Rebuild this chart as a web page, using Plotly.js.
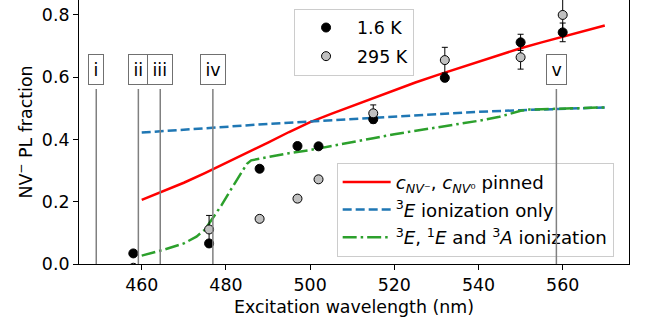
<!DOCTYPE html>
<html>
<head>
<meta charset="utf-8">
<script src="https://cdn.plot.ly/plotly-3.0.1.min.js"></script>
<style>html,body{margin:0;padding:0;background:#fff;}#chart{width:655px;height:327px;}</style>
</head>
<body>
<div id="chart"></div>
<script>
// Measured data (wavelength in nm, NV- PL fraction)
const wl1p6K = [458, 476, 488, 497, 502, 515, 532, 550, 560];
const val1p6K = [0.034, 0.066, 0.306, 0.379, 0.378, 0.465, 0.598, 0.712, 0.744];
const err1p6K = [0.01, 0.01, 0.01, 0.01, 0.01, 0.012, 0.012, 0.026, 0.03];

const wl295K = [458, 476, 488, 497, 502, 515, 532, 550, 560];
const val295K = [-0.012, 0.111, 0.145, 0.210, 0.272, 0.484, 0.655, 0.664, 0.800];
const err295K = [0.01, 0.045, 0.01, 0.01, 0.01, 0.027, 0.041, 0.038, 0.05];

// Model curves
const wlPinned = [460, 465, 470, 475, 480, 485, 490, 495, 500, 505, 510, 515, 520, 525, 530, 535, 540, 545, 550, 555, 560, 565, 570];
const valPinned = [0.206, 0.233, 0.261, 0.292, 0.324, 0.357, 0.390, 0.424, 0.456, 0.482, 0.507, 0.533, 0.559, 0.583, 0.606, 0.628, 0.650, 0.672, 0.693, 0.712, 0.730, 0.749, 0.766];

const wl3E = [460, 470, 480, 490, 500, 510, 520, 530, 540, 550, 560, 570];
const val3E = [0.422, 0.432, 0.441, 0.450, 0.458, 0.466, 0.475, 0.483, 0.489, 0.494, 0.499, 0.503];

const wlAll = [460, 465, 470, 473, 475, 477, 479, 481, 483, 485, 486, 490, 495, 500, 505, 510, 515, 520, 525, 530, 535, 540, 545, 548, 550, 552, 556, 560, 565, 570];
const valAll = [0.027, 0.045, 0.066, 0.088, 0.110, 0.150, 0.190, 0.235, 0.280, 0.322, 0.333, 0.344, 0.356, 0.366, 0.378, 0.391, 0.404, 0.417, 0.428, 0.437, 0.448, 0.460, 0.473, 0.484, 0.492, 0.496, 0.498, 0.499, 0.501, 0.503];

// Marker lines
const markLabels = ['i', 'ii', 'iii', 'iv', 'v'];
const markWl = [449.2, 459.2, 464.4, 476.9, 558.5];
const markLabelY = 0.626;

// Axis ticks
const xTicks = [460, 480, 500, 520, 540, 560];
const yTicks = [0.0, 0.2, 0.4, 0.6, 0.8];

const FONT = 'DejaVu Sans, sans-serif';
const FS = 17.4;

const traces = [
  {
    x: wlPinned, y: valPinned, mode: 'lines', type: 'scatter',
    name: '<i>c</i><sub><i>NV</i>⁻</sub>, <i>c</i><sub><i>NV</i>⁰</sub> pinned',
    line: {color: '#ff0000', width: 2.5},
    legend: 'legend2', legendgroup: 'a'
  },
  {
    x: wl3E, y: val3E, mode: 'lines', type: 'scatter',
    name: '<sup>3</sup><i>E</i> ionization only',
    line: {color: '#1f77b4', width: 2.5, dash: '9px,4px'},
    legend: 'legend2', legendgroup: 'b'
  },
  {
    x: wlAll, y: valAll, mode: 'lines', type: 'scatter',
    name: '<sup>3</sup><i>E</i>, <sup>1</sup><i>E</i> and <sup>3</sup><i>A</i> ionization',
    line: {color: '#2ca02c', width: 2.5, dash: '14px,4px,2.5px,4px'},
    legend: 'legend2', legendgroup: 'c'
  },
  {
    x: wl1p6K, y: val1p6K, mode: 'markers', type: 'scatter', name: '1.6 K',
    marker: {color: '#000000', size: 9, line: {color: '#000000', width: 1}},
    error_y: {type: 'data', array: err1p6K, visible: true, color: '#000000', thickness: 1, width: 3},
    legend: 'legend', legendgroup: 'd'
  },
  {
    x: wl295K, y: val295K, mode: 'markers', type: 'scatter', name: '295 K',
    marker: {color: '#c0c0c0', size: 9, line: {color: '#000000', width: 1}},
    error_y: {type: 'data', array: err295K, visible: true, color: '#000000', thickness: 1, width: 3},
    legend: 'legend', legendgroup: 'e'
  }
];

const annotations = markLabels.map((t, i) => ({
  text: t, x: markWl[i], y: 0, xref: 'x', yref: 'y',
  ax: markWl[i], ay: markLabelY, axref: 'x', ayref: 'y',
  showarrow: true, arrowhead: 0, arrowwidth: 1.5, arrowcolor: '#808080',
  startstandoff: 5,
  font: {family: FONT, size: FS, color: '#000'},
  bgcolor: '#ffffff', bordercolor: '#707070', borderwidth: 1, borderpad: 4.5
}));

const layout = {
  width: 655, height: 327,
  margin: {l: 79, r: 26, t: 0, b: 63},
  paper_bgcolor: '#ffffff', plot_bgcolor: '#ffffff',
  font: {family: FONT, size: FS, color: '#000'},
  xaxis: {
    range: [445.1, 575.75], tickvals: xTicks, ticks: 'outside', ticklen: 5, tickwidth: 1,
    tickcolor: '#000', showline: true, linecolor: '#000', linewidth: 1, mirror: false,
    showgrid: false, zeroline: false,
    title: {text: 'Excitation wavelength (nm)', font: {family: FONT, size: FS}, standoff: 6}
  },
  yaxis: {
    range: [0, 0.848], tickvals: yTicks, tickformat: '.1f', ticks: 'outside', ticklen: 5, tickwidth: 1,
    tickcolor: '#000', showline: true, linecolor: '#000', linewidth: 1, mirror: true,
    showgrid: false, zeroline: false,
    title: {text: 'NV<sup>−</sup> PL fraction', font: {family: FONT, size: FS}, standoff: 4}
  },
  legend: {
    x: 0.391, y: 0.967, xanchor: 'left', yanchor: 'top',
    bgcolor: 'rgba(255,255,255,0.8)', bordercolor: '#cccccc', borderwidth: 1,
    font: {family: FONT, size: FS}, itemwidth: 52, tracegroupgap: 3
  },
  legend2: {
    x: 0.4685, y: 0.384, xanchor: 'left', yanchor: 'top',
    bgcolor: 'rgba(255,255,255,0.8)', bordercolor: '#cccccc', borderwidth: 1,
    font: {family: FONT, size: 18.2}, tracegroupgap: 1, itemwidth: 48
  },
  annotations: annotations,
  showlegend: true
};

Plotly.newPlot('chart', traces, layout, {displayModeBar: false, staticPlot: true});
</script>
</body>
</html>
